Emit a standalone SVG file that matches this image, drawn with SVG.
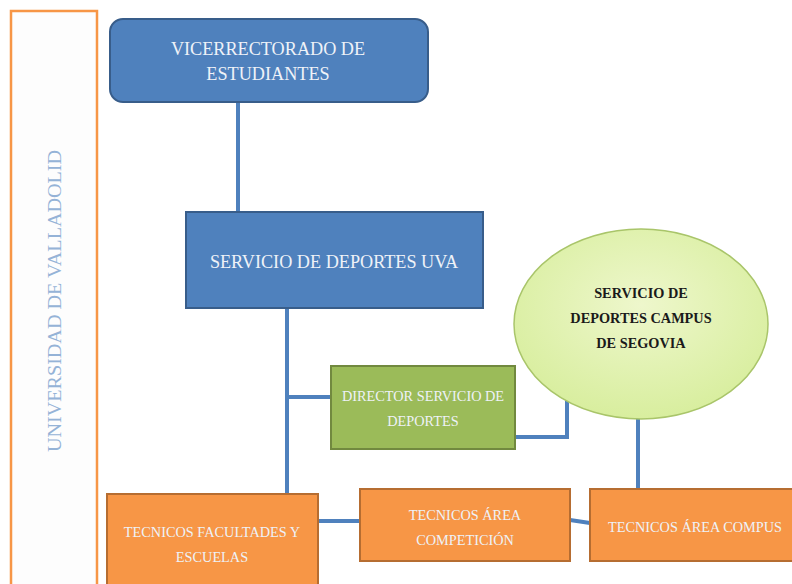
<svg xmlns="http://www.w3.org/2000/svg" width="792" height="584" viewBox="0 0 792 584" font-family="'Liberation Serif', 'Times New Roman', serif">
<style>
text{font-family:'Liberation Serif','Times New Roman',serif}
.t{text-anchor:middle;fill:#eef2f8}
.blue{fill:#4f81bd;stroke:#385d8a;stroke-width:2}
.green{fill:#9bbb59;stroke:#71893f;stroke-width:2}
.orange{fill:#f79646;stroke:#b66d31;stroke-width:2}
.c{fill:none;stroke:#4f81bd;stroke-width:4}
.b{font-size:18.2px}
.s{font-size:14.3px}
.k{font-size:14.3px;font-weight:bold;fill:#1a1a1a}
</style>
<defs>
<radialGradient id="eg" cx="50%" cy="40%" r="60%">
<stop offset="0" stop-color="#eef7cc"/>
<stop offset="1" stop-color="#d8ee9e"/>
</radialGradient>
</defs>
<rect width="792" height="584" fill="#ffffff"/>
<g id="frame">
<rect x="11" y="11" width="86" height="580" fill="#fdfdfd" stroke="#f79646" stroke-width="2.5"/>
<text class="t" x="0" y="0" transform="translate(61,301) rotate(-90)" style="fill:#95b3d7;font-size:18px" textLength="302" lengthAdjust="spacingAndGlyphs">UNIVERSIDAD  DE  VALLADOLID</text>
</g>
<g id="connectors">
<path class="c" d="M238 102V212"/>
<path class="c" d="M287 308V494M287 397H332"/>
<path class="c" d="M515 437H567V398"/>
<path class="c" d="M638 418V488"/>
<path class="c" d="M318 521H360"/>
<path class="c" d="M570 520L590 523"/>
</g>
<g id="vicerrectorado">
<rect class="blue" x="110" y="19" width="318" height="83" rx="13"/>
<text class="t b" x="268" y="55">VICERRECTORADO DE</text>
<text class="t b" x="268" y="80">ESTUDIANTES</text>
</g>
<g id="servicio-uva">
<rect class="blue" x="186" y="212" width="297" height="96"/>
<text class="t b" x="334" y="268">SERVICIO DE DEPORTES UVA</text>
</g>
<g id="director">
<rect class="green" x="331" y="366" width="184" height="83"/>
<text class="t s" x="423" y="401">DIRECTOR SERVICIO DE</text>
<text class="t s" x="423" y="426">DEPORTES</text>
</g>
<g id="segovia">
<ellipse cx="641" cy="324" rx="127" ry="95" fill="url(#eg)" stroke="#a9c56a" stroke-width="1.5"/>
<text class="t k" x="641" y="298">SERVICIO DE</text>
<text class="t k" x="641" y="323">DEPORTES CAMPUS</text>
<text class="t k" x="641" y="348">DE SEGOVIA</text>
</g>
<g id="facultades">
<rect class="orange" x="107" y="494" width="211" height="100"/>
<text class="t s" x="212" y="537">TECNICOS FACULTADES Y</text>
<text class="t s" x="212" y="562">ESCUELAS</text>
</g>
<g id="competicion">
<rect class="orange" x="360" y="489" width="210" height="72"/>
<text class="t s" x="465" y="520">TECNICOS ÁREA</text>
<text class="t s" x="465" y="545">COMPETICIÓN</text>
</g>
<g id="compus">
<rect class="orange" x="590" y="489" width="210" height="72"/>
<text class="t s" x="695" y="532">TECNICOS ÁREA COMPUS</text>
</g>
</svg>
